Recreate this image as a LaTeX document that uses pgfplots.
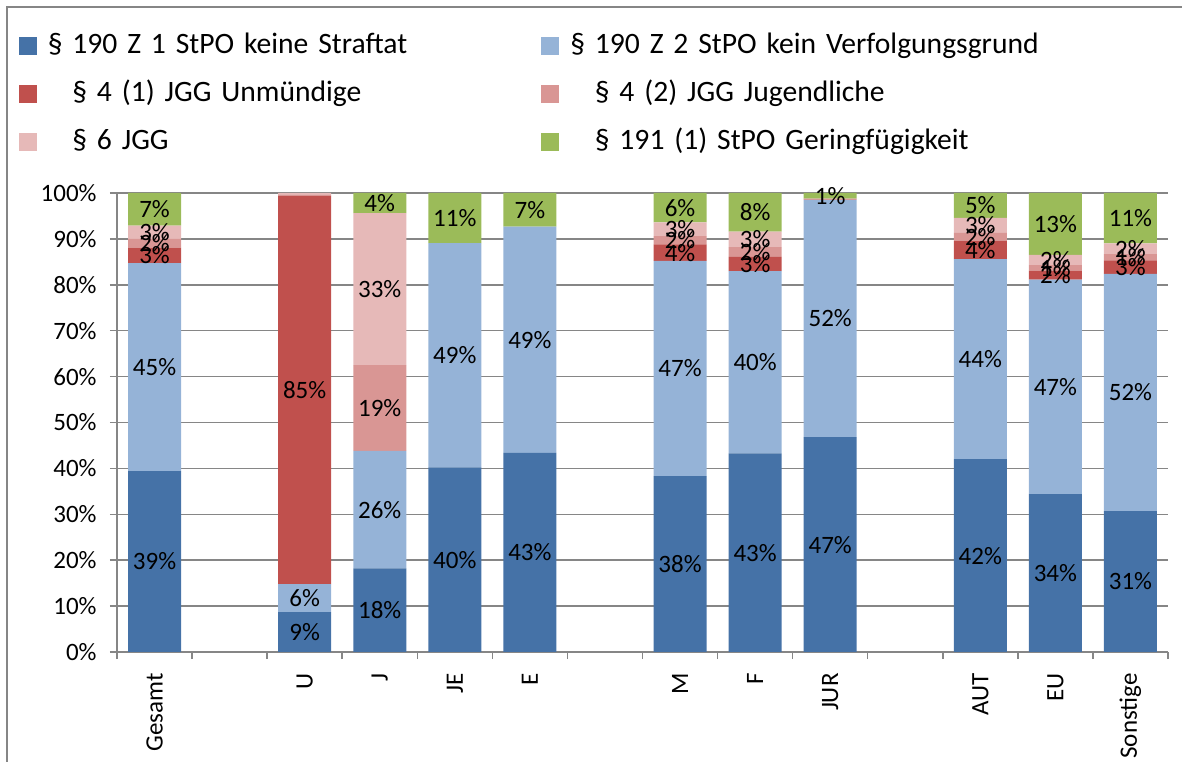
\documentclass[border=0pt]{standalone}
\usepackage{fontspec}
\setmainfont{Carlito}
\usepackage{pgfplots}
\usepackage{pgfplotstable}
\pgfplotsset{compat=1.18}
\definecolor{c1}{HTML}{4572A7}
\definecolor{c2}{HTML}{95B3D7}
\definecolor{c3}{HTML}{C0504D}
\definecolor{c4}{HTML}{D99694}
\definecolor{c5}{HTML}{E6B9B8}
\definecolor{c6}{HTML}{9BBB59}
\definecolor{axisgray}{HTML}{868686}

\pgfplotstableread{
x a b c d e f la lb lc ld le lf
0 39.4 45.3 3.4 1.9 2.9 7.1 39\% 45\% 3\% 2\% 3\% 7\%
2 8.7 6.1 84.6 0.2 0.4 0 9\% 6\% 85\% {} {} {}
3 18.2 25.6 0 18.7 33.1 4.4 18\% 26\% {} 19\% 33\% 4\%
4 40.2 48.9 0 0 0 10.9 40\% 49\% {} {} {} 11\%
5 43.4 49.3 0 0 0 7.3 43\% 49\% {} {} {} 7\%
7 38.3 46.9 3.6 1.8 3.0 6.4 38\% 47\% 4\% 2\% 3\% 6\%
8 43.3 39.7 3.1 2.1 3.4 8.4 43\% 40\% 3\% 2\% 3\% 8\%
9 46.8 51.7 0 0.3 0 1.2 47\% 52\% {} {} {} 1\%
11 42.0 43.6 3.9 1.8 3.3 5.4 42\% 44\% 4\% 2\% 3\% 5\%
12 34.4 46.7 2.0 1.2 2.2 13.5 34\% 47\% 2\% 1\% 2\% 13\%
13 30.7 51.7 2.9 1.4 2.3 11.0 31\% 52\% 3\% 1\% 2\% 11\%
}\data

\newcommand{\tickfont}{\fontsize{12.5bp}{14bp}\selectfont}
\newcommand{\legfont}{\fontsize{14.8bp}{17bp}\selectfont}

\pgfplotsset{
  common/.style={
    at={(58.5bp,55bp)}, anchor=south west,
    scale only axis, width=525.5bp, height=229.5bp,
    xmin=-0.5, xmax=13.5, ymin=0, ymax=100,
  },
  lbl/.style={draw=none, mark=none, point meta=explicit symbolic,
    nodes near coords={\pgfplotspointmeta},
    every node near coord/.append style={anchor=center, inner sep=0pt, font=\tickfont, text=black}},
}

\begin{document}
\begin{tikzpicture}
\path[use as bounding box] (0,0) rectangle (591bp,381bp);
\draw[axisgray, line width=0.75bp] (3.6bp,-2bp) -- (3.6bp,377.6bp) -- (600bp,377.6bp);
\begin{axis}[
  common,
  ybar stacked, bar width=26.5bp,
  axis x line*=bottom, axis y line*=left,
  axis line style={draw=axisgray, line width=0.75bp, -},
  tick align=outside, major tick length=3.5bp,
  tick style={draw=axisgray, line width=0.75bp},
  xtick={-0.5,0.5,...,13.5}, xticklabels={},
  extra x ticks={0,2,3,4,5,7,8,9,11,12,13},
  extra x tick labels={Gesamt,U,J,JE,E,M,F,JUR,AUT,EU,Sonstige},
  extra x tick style={major tick length=0pt,
    xticklabel style={rotate=90, anchor=east, inner sep=0pt, xshift=-10.5bp, font=\tickfont}},
  ytick={0,10,...,100},
  yticklabel={\pgfmathprintnumber{\tick}\%},
  yticklabel style={inner sep=0pt, xshift=-6.5bp, font=\tickfont},
  /pgf/number format/assume math mode=true,
  ymajorgrids, grid style={draw=axisgray, line width=0.75bp},
  legend columns=2,
  legend image code/.code={\fill[#1] (0bp,-4.5bp) rectangle (9bp,4.5bp);},
  legend style={at={(-0.09324,1.351)}, anchor=north west, draw=none, fill=none,
    inner sep=0pt, outer sep=0pt, row sep=10bp, column sep=0pt, font=\legfont,
    nodes={inner sep=0pt, text width=246.85bp, align=left, text height=11bp, text depth=3bp},
    /tikz/every odd column/.append style={column sep=5.4bp}},
]
\addplot[fill=c1, draw=none] table[x=x, y=a] {\data};
\addplot[fill=c2, draw=none] table[x=x, y=b] {\data};
\addplot[fill=c3, draw=none] table[x=x, y=c] {\data};
\addplot[fill=c4, draw=none] table[x=x, y=d] {\data};
\addplot[fill=c5, draw=none] table[x=x, y=e] {\data};
\addplot[fill=c6, draw=none] table[x=x, y=f] {\data};
\addlegendentry{§ 190 Z 1 StPO keine Straftat}
\addlegendentry{§ 190 Z 2 StPO kein Verfolgungsgrund}
\addlegendentry{\hspace*{12.3bp}§ 4 (1) JGG Unmündige}
\addlegendentry{\hspace*{12.3bp}§ 4 (2) JGG Jugendliche}
\addlegendentry{\hspace*{12.3bp}§ 6 JGG}
\addlegendentry{\hspace*{12.3bp}§ 191 (1) StPO Geringfügigkeit}
\end{axis}
\begin{axis}[common, hide axis, clip=false]
\addplot[lbl] table[x=x, y expr={\thisrow{a}/2}, meta=la] {\data};
\addplot[lbl] table[x=x, y expr={\thisrow{a}+\thisrow{b}/2}, meta=lb] {\data};
\addplot[lbl] table[x=x, y expr={\thisrow{a}+\thisrow{b}+\thisrow{c}/2}, meta=lc] {\data};
\addplot[lbl] table[x=x, y expr={\thisrow{a}+\thisrow{b}+\thisrow{c}+\thisrow{d}/2}, meta=ld] {\data};
\addplot[lbl] table[x=x, y expr={\thisrow{a}+\thisrow{b}+\thisrow{c}+\thisrow{d}+\thisrow{e}/2}, meta=le] {\data};
\addplot[lbl] table[x=x, y expr={\thisrow{a}+\thisrow{b}+\thisrow{c}+\thisrow{d}+\thisrow{e}+\thisrow{f}/2}, meta=lf] {\data};
\end{axis}
\end{tikzpicture}
\end{document}
